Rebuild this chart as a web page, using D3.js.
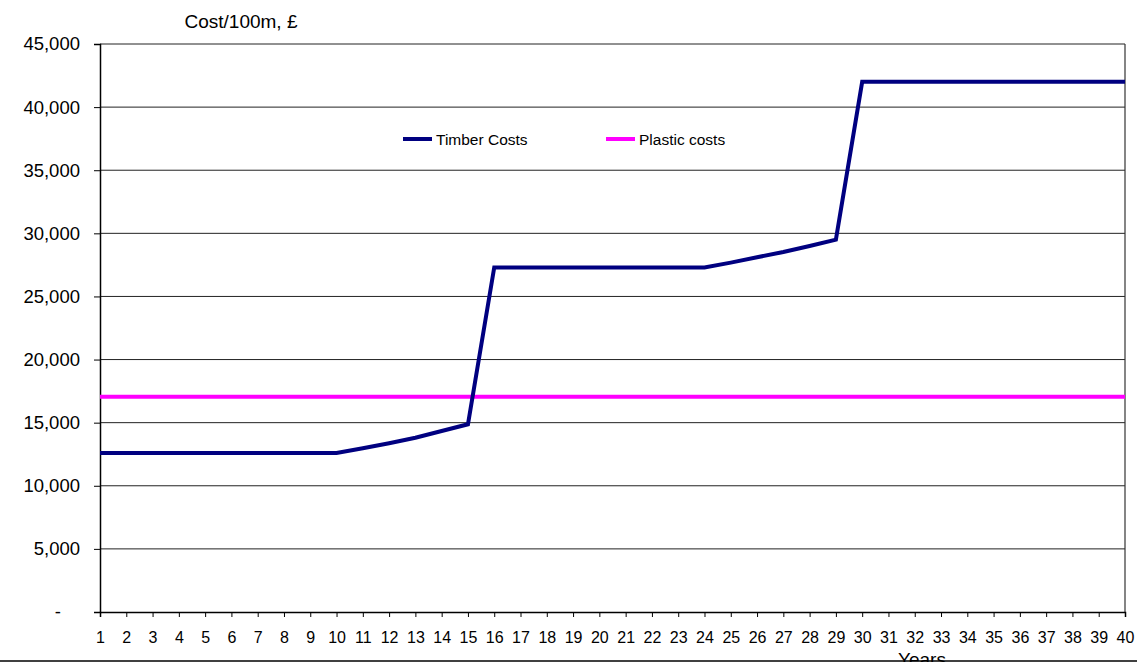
<!DOCTYPE html>
<html>
<head>
<meta charset="utf-8">
<script src="https://cdn.jsdelivr.net/npm/d3@7"></script>
<style>
  html, body { margin: 0; padding: 0; background: #fff; overflow: hidden; }
  svg text { font-family: "Liberation Sans", Arial, sans-serif; fill: #000; }
</style>
</head>
<body>
<svg id="chart" width="1137" height="662"></svg>
<script>
// Years on the category axis
const years = d3.range(1, 41);
// Timber cost per 100 m, £, by year
const timberCosts = [
  12600, 12600, 12600, 12600, 12600, 12600, 12600, 12600, 12600, 12600,
  12970, 13370, 13810, 14340, 14870, 27300, 27300, 27300, 27300, 27300,
  27300, 27300, 27300, 27300, 27680, 28100, 28520, 29000, 29500, 42000,
  42000, 42000, 42000, 42000, 42000, 42000, 42000, 42000, 42000, 42000
];
// Plastic cost per 100 m, £, flat over the period
const plasticCosts = years.map(() => 17050);
// Value-axis ticks
const yTicks = [0, 5000, 10000, 15000, 20000, 25000, 30000, 35000, 40000, 45000];

const svg = d3.select("#chart");
const plotLeft = 100, plotRight = 1125, plotTop = 44, plotBottom = 612;

const x = d3.scalePoint().domain(years).range([plotLeft, plotRight]);
const y = d3.scaleLinear().domain([0, 45000]).range([plotBottom, plotTop]);

const fmt = v => v === 0 ? "-" : d3.format(",")(v);

// horizontal gridlines
svg.append("g")
  .selectAll("line")
  .data(yTicks.filter(v => v > 0))
  .join("line")
  .attr("x1", plotLeft).attr("x2", plotRight)
  .attr("y1", d => y(d)).attr("y2", d => y(d))
  .attr("stroke", "#222").attr("stroke-width", 1);

// right border of plot area
svg.append("line")
  .attr("x1", plotRight).attr("x2", plotRight).attr("y1", plotTop).attr("y2", plotBottom)
  .attr("stroke", "#333").attr("stroke-width", 1.2);

// y axis
const yAxis = svg.append("g")
  .attr("transform", `translate(${plotLeft},0)`)
  .call(d3.axisLeft(y).tickValues(yTicks).tickFormat(fmt).tickSize(6).tickPadding(14));
yAxis.select(".domain").attr("stroke", "#000").attr("stroke-width", 1.5);
yAxis.selectAll(".tick line").attr("stroke", "#000");
yAxis.selectAll(".tick text")
  .attr("font-size", 18.5)
  .attr("font-family", "Liberation Sans, Arial, sans-serif")
  .attr("dx", d => d === 0 ? -19 : 0);

// x axis
const xAxis = svg.append("g")
  .attr("transform", `translate(0,${plotBottom})`)
  .call(d3.axisBottom(x).tickSize(5).tickPadding(15));
xAxis.select(".domain").attr("stroke", "#000").attr("stroke-width", 1.5);
xAxis.selectAll(".tick line").attr("stroke", "#000");
xAxis.selectAll(".tick text")
  .attr("font-size", 16)
  .attr("font-family", "Liberation Sans, Arial, sans-serif");

// series lines
const line = d3.line()
  .x((d, i) => x(years[i]))
  .y(d => y(d));

svg.append("path")
  .datum(plasticCosts)
  .attr("d", line)
  .attr("fill", "none")
  .attr("stroke", "#ff00ff")
  .attr("stroke-width", 4);

svg.append("path")
  .datum(timberCosts)
  .attr("d", line)
  .attr("fill", "none")
  .attr("stroke", "#000080")
  .attr("stroke-width", 4)
  .attr("stroke-linejoin", "miter");

// axis titles
svg.append("text")
  .attr("x", 241).attr("y", 27.5)
  .attr("text-anchor", "middle")
  .attr("font-size", 19)
  .text("Cost/100m, £");

svg.append("text")
  .attr("x", 922).attr("y", 666)
  .attr("text-anchor", "middle")
  .attr("font-size", 19)
  .text("Years");

// legend
const legend = [
  { name: "Timber Costs", color: "#000080", x: 403 },
  { name: "Plastic costs", color: "#ff00ff", x: 606 }
];
const lg = svg.append("g").selectAll("g").data(legend).join("g");
lg.append("line")
  .attr("x1", d => d.x).attr("x2", d => d.x + 29)
  .attr("y1", 139).attr("y2", 139)
  .attr("stroke", d => d.color).attr("stroke-width", 4);
lg.append("text")
  .attr("x", d => d.x + 33).attr("y", 145)
  .attr("font-size", 15.5)
  .text(d => d.name);

// frame rule along the bottom edge
svg.append("line")
  .attr("x1", 0).attr("x2", 1137).attr("y1", 661).attr("y2", 661)
  .attr("stroke", "#000").attr("stroke-width", 1.5);
</script>
</body>
</html>
